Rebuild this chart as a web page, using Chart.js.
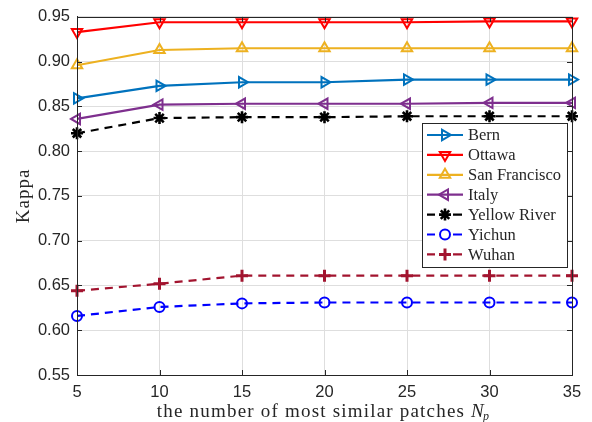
<!DOCTYPE html>
<html>
<head>
<meta charset="utf-8">
<script src="https://cdn.jsdelivr.net/npm/chart.js@4"></script>
<style>
  html, body { margin: 0; padding: 0; background: #fff; }
  #wrap { width: 592px; height: 422px; }
</style>
</head>
<body>
<div id="wrap"><canvas id="myChart" width="592" height="422"></canvas></div>
<script>
// values
const xVals = [5, 10, 15, 20, 25, 30, 35];
const bern = [0.859, 0.873, 0.877, 0.877, 0.880, 0.880, 0.880];
const ottawa = [0.933, 0.944, 0.944, 0.944, 0.944, 0.945, 0.945];
const sanFrancisco = [0.896, 0.913, 0.915, 0.915, 0.915, 0.915, 0.915];
const italy = [0.836, 0.852, 0.853, 0.853, 0.853, 0.854, 0.854];
const yellowRiver = [0.820, 0.837, 0.838, 0.838, 0.839, 0.839, 0.839];
const yichun = [0.616, 0.626, 0.630, 0.631, 0.631, 0.631, 0.631];
const wuhan = [0.644, 0.652, 0.661, 0.661, 0.661, 0.661, 0.661];

const serif = "'Liberation Serif', 'DejaVu Serif', serif";
const sans = "'Liberation Sans', Arial, sans-serif";

function series(label, vals, color, style, rot, dashed, radius, bw) {
    return {
        label: label,
        data: vals.map((v, i) => ({ x: xVals[i], y: v })),
        borderColor: color,
        backgroundColor: 'rgba(0,0,0,0)',
        pointBorderColor: color,
        pointBackgroundColor: 'rgba(0,0,0,0)',
        borderWidth: 2.2,
        borderDash: dashed ? [8, 6] : [],
        pointStyle: style,
        rotation: rot,
        pointRadius: radius,
        pointBorderWidth: bw,
        clip: false,
        tension: 0
    };
}

const datasets = [
    series('Bern', bern, '#0072BD', 'triangle', 90, false, 6, 2),
    series('Ottawa', ottawa, '#FF0000', 'triangle', 180, false, 6, 2),
    series('San Francisco', sanFrancisco, '#EDB120', 'triangle', 0, false, 6, 2),
    series('Italy', italy, '#7E2F8E', 'triangle', 270, false, 6, 2),
    series('Yellow River', yellowRiver, '#000000', 'star', 0, true, 6, 2.6),
    series('Yichun', yichun, '#0000FF', 'circle', 0, true, 5, 2),
    series('Wuhan', wuhan, '#A2142F', 'cross', 0, true, 6, 3)
];

// box, inward ticks, axis titles and legend inside the axes
const matlabLook = {
    id: 'matlabLook',
    afterDraw(chart) {
        const ctx = chart.ctx;
        const a = chart.chartArea;
        const xs = chart.scales.x, ys = chart.scales.y;
        ctx.save();
        ctx.strokeStyle = '#262626';
        ctx.lineWidth = 1;
        ctx.setLineDash([]);
        ctx.strokeRect(Math.round(a.left) + 0.5, Math.round(a.top) + 0.5,
            Math.round(a.right - a.left), Math.round(a.bottom - a.top));
        ctx.beginPath();
        xs.ticks.forEach(t => {
            const px = Math.round(xs.getPixelForValue(t.value)) + 0.5;
            ctx.moveTo(px, a.bottom); ctx.lineTo(px, a.bottom - 5);
            ctx.moveTo(px, a.top); ctx.lineTo(px, a.top + 5);
        });
        ys.ticks.forEach(t => {
            const py = Math.round(ys.getPixelForValue(t.value)) + 0.5;
            ctx.moveTo(a.left, py); ctx.lineTo(a.left + 5, py);
            ctx.moveTo(a.right, py); ctx.lineTo(a.right - 5, py);
        });
        ctx.stroke();

        // x axis title
        ctx.fillStyle = '#262626';
        ctx.textBaseline = 'alphabetic';
        ctx.textAlign = 'left';
        ctx.letterSpacing = '1.2px';
        const main = 'the number of most similar patches ';
        ctx.font = '19px ' + serif;
        const w1 = ctx.measureText(main).width;
        ctx.font = 'italic 19px ' + serif;
        const w2 = ctx.measureText('N').width;
        ctx.font = 'italic 12px ' + serif;
        const w3 = ctx.measureText('p').width;
        const cx = (a.left + a.right) / 2;
        let x0 = cx - (w1 + w2 + w3) / 2;
        const base = 417;
        ctx.font = '19px ' + serif;
        ctx.fillText(main, x0, base);
        ctx.font = 'italic 19px ' + serif;
        ctx.fillText('N', x0 + w1, base);
        ctx.font = 'italic 12px ' + serif;
        ctx.fillText('p', x0 + w1 + w2 - 2, base + 3);

        // y axis title
        ctx.save();
        ctx.translate(24, (a.top + a.bottom) / 2);
        ctx.rotate(-Math.PI / 2);
        ctx.textAlign = 'center';
        ctx.textBaseline = 'middle';
        ctx.letterSpacing = '1px';
        ctx.font = '19px ' + serif;
        ctx.fillText('Kappa', 0, 0);
        ctx.restore();
        ctx.letterSpacing = '0px';

        // legend
        const lx = 422, ly = 123, lw = 145, lh = 144;
        ctx.fillStyle = '#ffffff';
        ctx.fillRect(lx, ly, lw, lh);
        ctx.strokeStyle = '#262626';
        ctx.lineWidth = 1;
        ctx.strokeRect(lx + 0.5, ly + 0.5, lw, lh);
        chart.data.datasets.forEach((ds, i) => {
            const y = ly + 12 + i * 19.9;
            ctx.strokeStyle = ds.borderColor;
            ctx.lineWidth = 2.2;
            ctx.setLineDash([]);
            ctx.beginPath();
            if (ds.borderDash.length) {
                ctx.moveTo(lx + 5, y); ctx.lineTo(lx + 13, y);
                ctx.moveTo(lx + 31, y); ctx.lineTo(lx + 40, y);
            } else {
                ctx.moveTo(lx + 5, y); ctx.lineTo(lx + 41, y);
            }
            ctx.stroke();
            ctx.fillStyle = 'rgba(0,0,0,0)';
            ctx.lineWidth = ds.pointBorderWidth;
            Chart.helpers.drawPoint(ctx, {
                pointStyle: ds.pointStyle,
                rotation: ds.rotation,
                radius: ds.pointRadius,
                borderWidth: ds.pointBorderWidth
            }, lx + 23, y);
            ctx.fillStyle = '#262626';
            ctx.font = '16.5px ' + serif;
            ctx.textBaseline = 'middle';
            ctx.textAlign = 'left';
            ctx.fillText(ds.label, lx + 46, y + 1);
        });
        ctx.restore();
    }
};

const ctx = document.getElementById('myChart').getContext('2d');
const chart = new Chart(ctx, {
    type: 'line',
    data: { datasets: datasets },
    options: {
        responsive: false,
        animation: false,
        layout: { padding: { left: 0, right: 20, top: 15, bottom: 0 } },
        plugins: {
            legend: { display: false },
            tooltip: { enabled: false }
        },
        scales: {
            x: {
                type: 'linear',
                min: 5,
                max: 35,
                ticks: { stepSize: 5, color: '#262626', padding: 8, font: { family: sans, size: 16.5 } },
                grid: { color: '#dedede', drawTicks: false },
                border: { color: '#262626' },
                afterFit: s => { s.height = 47; }
            },
            y: {
                min: 0.55,
                max: 0.95,
                ticks: {
                    stepSize: 0.05, color: '#262626', padding: 7,
                    font: { family: sans, size: 16.5 },
                    callback: v => v.toFixed(2)
                },
                grid: { color: '#dedede', drawTicks: false },
                border: { color: '#262626' },
                afterFit: s => { s.width = 77; }
            }
        }
    },
    plugins: [matlabLook]
});
</script>
</body>
</html>
